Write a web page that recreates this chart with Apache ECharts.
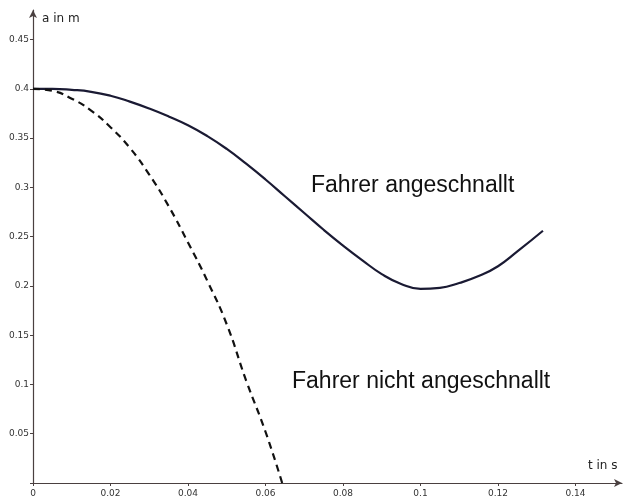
<!DOCTYPE html>
<html>
<head>
<meta charset="utf-8">
<script src="https://cdn.jsdelivr.net/npm/echarts@6/dist/echarts.min.js"></script>
<style>
html,body{margin:0;padding:0;background:#fff;}
#c{width:630px;height:501px;}
</style>
</head>
<body>
<div id="c"></div>
<script>
// Data: time t (s) and distance a (m)
var belted_t = [0, 0.005, 0.01, 0.015, 0.02, 0.025, 0.03, 0.035, 0.04, 0.045, 0.05, 0.055, 0.06, 0.065, 0.07, 0.075, 0.08, 0.085, 0.09, 0.095, 0.1, 0.105, 0.11, 0.115, 0.12, 0.125, 0.1316];
var belted_a = [0.4, 0.4, 0.399, 0.397, 0.393, 0.387, 0.380, 0.372, 0.363, 0.352, 0.339, 0.324, 0.308, 0.291, 0.274, 0.257, 0.241, 0.226, 0.212, 0.202, 0.197, 0.198, 0.203, 0.210, 0.220, 0.235, 0.256];
var unbelted_t = [0, 0.005, 0.01, 0.015, 0.02, 0.025, 0.03, 0.035, 0.04, 0.045, 0.05, 0.055, 0.06, 0.0643];
var unbelted_a = [0.4, 0.398, 0.390, 0.378, 0.361, 0.340, 0.313, 0.281, 0.244, 0.205, 0.161, 0.104, 0.052, 0.0];
var xTicks = [0, 0.02, 0.04, 0.06, 0.08, 0.1, 0.12, 0.14];
var yTicks = [0.05, 0.1, 0.15, 0.2, 0.25, 0.3, 0.35, 0.4, 0.45];
var seriesNames = ['Fahrer angeschnallt', 'Fahrer nicht angeschnallt'];
var axisNames = ['t in s', 'a in m'];

function zip(a, b) { return a.map(function (v, i) { return [v, b[i]]; }); }
function near(v, list) { return list.some(function (t) { return Math.abs(t - v) < 1e-6; }); }

var chart = echarts.init(document.getElementById('c'), null, {renderer: 'canvas'});
var axisColor = '#4a4040';
var labelStyle = {color: '#333', fontSize: 9, fontFamily: 'DejaVu Sans'};
chart.setOption({
  backgroundColor: '#ffffff',
  animation: false,
  grid: {left: 33, right: 8, top: 10, bottom: 18, containLabel: false},
  xAxis: {
    type: 'value', min: 0, max: 0.152, interval: 0.02,
    splitLine: {show: false},
    axisLine: {show: true, onZero: false, symbol: ['none', 'arrow'], symbolSize: [6, 8], lineStyle: {color: axisColor, width: 1.2}},
    axisTick: {show: true, length: 3, inside: false, lineStyle: {color: axisColor}},
    axisLabel: Object.assign({margin: 6, showMaxLabel: false,
      formatter: function (v) { return near(v, xTicks) ? String(+v.toFixed(2)) : ''; }}, labelStyle)
  },
  yAxis: {
    type: 'value', min: 0, max: 0.48, interval: 0.05,
    splitLine: {show: false},
    axisLine: {show: true, onZero: false, symbol: ['none', 'arrow'], symbolSize: [6, 8], lineStyle: {color: axisColor, width: 1.2}},
    axisTick: {show: true, length: 3, lineStyle: {color: axisColor}},
    axisLabel: Object.assign({margin: 4, showMaxLabel: false,
      formatter: function (v) { return near(v, yTicks) ? String(+v.toFixed(2)) : ''; }}, labelStyle)
  },
  graphic: [
    {type: 'text', left: 42, top: 13, style: {text: axisNames[1], fill: '#222', font: '12px "DejaVu Sans"'}},
    {type: 'text', left: 588, top: 460, style: {text: axisNames[0], fill: '#222', font: '12px "DejaVu Sans"'}},
    {type: 'text', left: 311, top: 174, style: {text: seriesNames[0], fill: '#111', font: '23px "Liberation Sans"'}},
    {type: 'text', left: 292, top: 370, style: {text: seriesNames[1], fill: '#111', font: '23px "Liberation Sans"'}}
  ],
  series: [
    {
      name: seriesNames[0], type: 'line', data: zip(belted_t, belted_a),
      smooth: 0.5, showSymbol: false, symbol: 'none',
      lineStyle: {color: '#1a1a33', width: 2.2}
    },
    {
      name: seriesNames[1], type: 'line', data: zip(unbelted_t, unbelted_a),
      smooth: 0.5, showSymbol: false, symbol: 'none',
      lineStyle: {color: '#111', width: 2.2, type: [7, 5]}
    }
  ]
});
</script>
</body>
</html>
